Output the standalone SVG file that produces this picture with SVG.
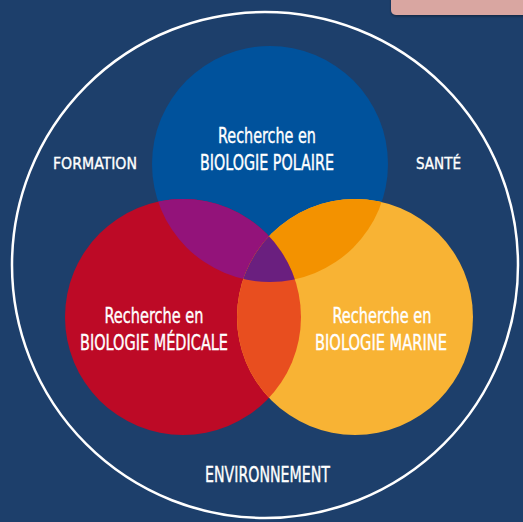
<svg xmlns="http://www.w3.org/2000/svg" width="523" height="522" viewBox="0 0 523 522">
<style>
.lbl{font-family:"DejaVu Sans Condensed","DejaVu Sans","Liberation Sans",sans-serif;font-stretch:condensed;fill:#ffffff;text-anchor:middle;stroke:#ffffff;stroke-width:0.35}
.in{font-size:20.5px}
.out{font-size:16.5px}
.env{font-size:21px}
</style>
<defs>
<clipPath id="cBlue"><circle cx="270" cy="164" r="118"/></clipPath>
<clipPath id="cRed"><circle cx="183" cy="317" r="118"/></clipPath>
<clipPath id="cOrange"><circle cx="355" cy="317" r="118"/></clipPath>
<filter id="sh" x="-10%" y="-50%" width="120%" height="200%"><feDropShadow dx="0" dy="1.5" stdDeviation="1" flood-color="#000" flood-opacity="0.35"/></filter>
</defs>
<rect width="523" height="522" fill="#1d3f6b"/>
<rect x="391" y="-10" width="150" height="25" rx="5" fill="#d9a6a1" filter="url(#sh)"/>
<circle cx="265" cy="265" r="253" fill="none" stroke="#ffffff" stroke-width="2.5"/>
<g id="blue"><circle cx="270" cy="164" r="118" fill="#00529c"/></g>
<g id="red"><circle cx="183" cy="317" r="118" fill="#bd0a26"/></g>
<g id="orange"><circle cx="355" cy="317" r="118" fill="#f8b334"/></g>
<g id="overlaps">
<g clip-path="url(#cBlue)"><circle cx="183" cy="317" r="118" fill="#93137a"/><circle cx="355" cy="317" r="118" fill="#f39200"/></g>
<g clip-path="url(#cRed)"><circle cx="355" cy="317" r="118" fill="#e84e1f"/><g clip-path="url(#cBlue)"><circle cx="355" cy="317" r="118" fill="#6a1f7f"/></g></g>
</g>
<g id="labels">
<text class="lbl in" x="267" y="143" textLength="98" lengthAdjust="spacingAndGlyphs">Recherche en</text>
<text class="lbl in" x="267" y="170" textLength="134" lengthAdjust="spacingAndGlyphs">BIOLOGIE POLAIRE</text>
<text class="lbl in" x="154" y="323" textLength="99" lengthAdjust="spacingAndGlyphs">Recherche en</text>
<text class="lbl in" x="154" y="350" textLength="148" lengthAdjust="spacingAndGlyphs">BIOLOGIE MÉDICALE</text>
<text class="lbl in" x="382" y="323" textLength="99" lengthAdjust="spacingAndGlyphs">Recherche en</text>
<text class="lbl in" x="381" y="350" textLength="132" lengthAdjust="spacingAndGlyphs">BIOLOGIE MARINE</text>
<text class="lbl out" x="95" y="169" textLength="84" lengthAdjust="spacingAndGlyphs">FORMATION</text>
<text class="lbl out" x="438.5" y="169" textLength="45" lengthAdjust="spacingAndGlyphs">SANTÉ</text>
<text class="lbl env" x="267.5" y="482" textLength="125" lengthAdjust="spacingAndGlyphs">ENVIRONNEMENT</text>
</g>
</svg>
